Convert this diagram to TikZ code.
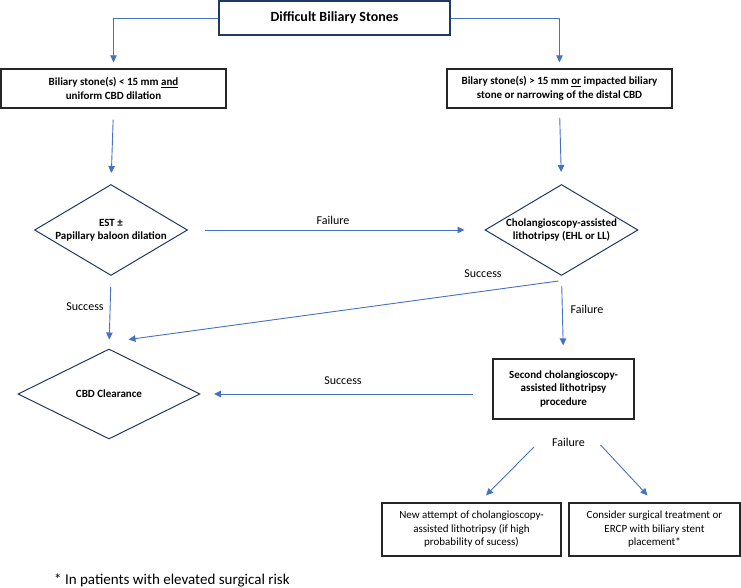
\documentclass[tikz,border=0pt]{standalone}
\usepackage{fontspec}
\setmainfont{Carlito}
\usetikzlibrary{shapes.geometric,arrows.meta,calc}
\definecolor{arrowblue}{HTML}{4472C4}
\definecolor{navy}{HTML}{1F3864}

\begin{document}
\begin{tikzpicture}[x=1pt,y=-1pt,
  box/.style={draw=black!85,line width=1.2pt,align=center,inner sep=0pt,font=\fontsize{11}{13.3}\selectfont\bfseries},
  plainbox/.style={draw=black!85,line width=1.2pt,align=center,inner sep=0pt,font=\fontsize{11}{13.5}\selectfont},
  decision/.style={diamond,draw=navy,line width=1pt,align=center,inner ysep=0pt,inner xsep=-6pt,font=\fontsize{11}{13.3}\selectfont\bfseries},
  link/.style={draw=arrowblue,line width=0.9pt,-{Triangle[length=7pt,width=6.5pt]}},
  lbl/.style={font=\fontsize{12}{14}\selectfont,inner sep=0pt}]
\useasboundingbox (0,0) rectangle (741,588);

\node [box,draw=navy,line width=1.5pt,minimum width=231pt,minimum height=34pt,font=\fontsize{14}{16}\selectfont\bfseries] (stones) at (334.5,18) {Difficult Biliary Stones};
\node [box,minimum width=225pt,minimum height=39pt] (small) at (113.5,88.5) {Biliary stone(s) < 15 mm \underline{and}\\uniform CBD dilation};
\node [box,minimum width=225pt,minimum height=39pt] (large) at (559.5,88.5) {Bilary stone(s) > 15 mm \underline{or} impacted biliary\\stone or narrowing of the distal CBD};
\node [decision,aspect=1.68,minimum width=153pt,minimum height=91pt] (est) at (111,230) {EST ±\\Papillary baloon dilation};
\node [decision,aspect=1.68,minimum width=153pt,minimum height=91pt] (chol) at (561.5,230) {Cholangioscopy-assisted\\lithotripsy (EHL or LL)};
\node [decision,aspect=2,minimum width=182pt,minimum height=90pt] (clear) at (109,394) {CBD Clearance};
\node [box,minimum width=141pt,minimum height=60pt] (second) at (563.5,389) {Second cholangioscopy-\\assisted lithotripsy\\procedure};
\node [plainbox,minimum width=179pt,minimum height=53pt] (retry) at (471.5,529.5) {New attempt of cholangioscopy-\\assisted lithotripsy (if high\\probability of sucess)};
\node [plainbox,minimum width=171pt,minimum height=53pt] (surgery) at (654.5,529.5) {Consider surgical treatment or\\ERCP with biliary stent\\placement*};

\node [lbl] (fail1) at (333,220) {Failure};
\node [lbl] (succ1) at (85,307) {Success};
\node [lbl] (succ2) at (483,274) {Success};
\node [lbl] (fail2) at (587,309) {Failure};
\node [lbl] (succ3) at (343,381) {Success};
\node [lbl] (fail3) at (568.5,442) {Failure};
\node [anchor=west,font=\fontsize{15}{18}\selectfont,inner sep=0pt] (note) at (54,580) {* In patients with elevated surgical risk};

\draw [link] (stones.west) -| ([yshift=6pt]small.north);
\draw [link] (stones.east) -| ([yshift=6pt]large.north);
\draw [link,shorten <=11pt,shorten >=11pt] (small.south) -- (est.north);
\draw [link,shorten <=9pt,shorten >=12pt] (large.south) -- (chol.north);
\draw [link,shorten <=17pt,shorten >=20pt] (est.east) -- (chol.west);
\draw [link,shorten <=11pt,shorten >=9pt] (est.south) -- (clear.north);
\draw [link] ([xshift=-3pt,yshift=-5pt]chol.south) -- ([xshift=19.5pt,yshift=9pt]clear.north);
\draw [link,shorten <=10pt,shorten >=13pt] (chol.south) -- (second.north);
\draw [link,shorten <=19pt,shorten >=13.5pt] (second.west |- clear.east) -- (clear.east);
\draw [link] ([xshift=-18pt,yshift=-5pt]fail3.west) -- ([xshift=14.5pt,yshift=7pt]retry.north);
\draw [link] ([xshift=15.5pt,yshift=-3pt]fail3.east) -- ([xshift=-7pt,yshift=7pt]surgery.north);

\end{tikzpicture}
\end{document}
